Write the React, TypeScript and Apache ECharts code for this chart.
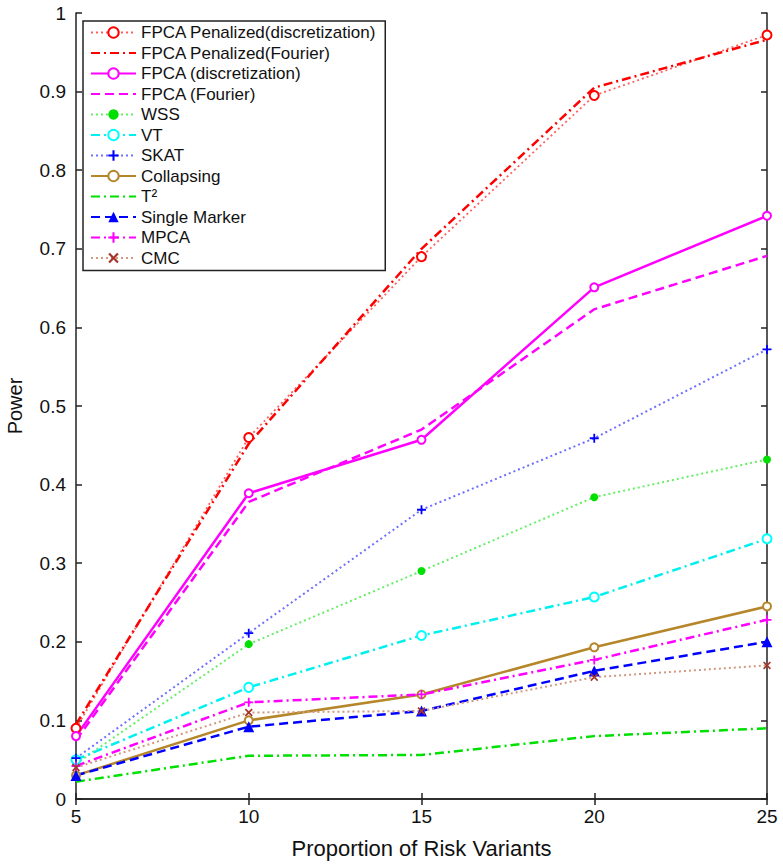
import React, { useEffect, useRef } from "react";
import * as echarts from "echarts";

const xValues = [5, 10, 15, 20, 25];
const penalizedDiscretization = [0.09, 0.46, 0.69, 0.895, 0.972];
const penalizedFourier = [0.095, 0.452, 0.7, 0.905, 0.966];
const fpcaDiscretization = [0.08, 0.389, 0.457, 0.651, 0.742];
const fpcaFourier = [0.075, 0.378, 0.47, 0.623, 0.691];
const wss = [0.045, 0.197, 0.29, 0.384, 0.432];
const vt = [0.05, 0.142, 0.208, 0.257, 0.331];
const skat = [0.052, 0.211, 0.368, 0.459, 0.572];
const collapsing = [0.03, 0.1, 0.133, 0.193, 0.245];
const t2 = [0.022, 0.055, 0.056, 0.08, 0.09];
const singleMarker = [0.03, 0.092, 0.112, 0.163, 0.2];
const mpca = [0.042, 0.123, 0.133, 0.177, 0.228];
const cmc = [0.04, 0.11, 0.112, 0.155, 0.17];

const seriesNames = [
  "FPCA Penalized(discretization)",
  "FPCA Penalized(Fourier)",
  "FPCA (discretization)",
  "FPCA (Fourier)",
  "WSS",
  "VT",
  "SKAT",
  "Collapsing",
  "T²",
  "Single Marker",
  "MPCA",
  "CMC",
];

const xTitle = "Proportion of Risk Variants";
const yTitle = "Power";

const PLUS =
  "path://M4,0 L6,0 L6,4 L10,4 L10,6 L6,6 L6,10 L4,10 L4,6 L0,6 L0,4 L4,4 Z";
const CROSS =
  "path://M0,1.5 L1.5,0 L5,3.5 L8.5,0 L10,1.5 L6.5,5 L10,8.5 L8.5,10 L5,6.5 L1.5,10 L0,8.5 L3.5,5 Z";

const DOT: any = [2, 3];
const DASH: any = [9, 5];
const DASHDOT: any = [9, 4, 2, 4];

export default function App() {
  const ref = useRef<HTMLDivElement>(null);

  useEffect(() => {
    if (!ref.current) return;
    const chart = echarts.init(ref.current, undefined, { renderer: "svg" });

    const mk = (
      name: string,
      values: number[],
      color: string,
      lineColor: string,
      type: any,
      width: number,
      symbol: string,
      symbolSize: number
    ) => ({
      name,
      type: "line",
      data: xValues.map((x, i) => [x, values[i]]),
      color,
      symbol,
      symbolSize,
      showSymbol: symbol !== "none",
      itemStyle: { color },
      lineStyle: { color: lineColor, type, width },
      emphasis: { disabled: true },
      z: 3,
    });

    const series = [
      mk(seriesNames[0], penalizedDiscretization, "#ff0000", "#ff6060", DOT, 1.8, "emptyCircle", 9),
      mk(seriesNames[1], penalizedFourier, "#ff0000", "#ff0000", DASHDOT, 2.5, "none", 0),
      mk(seriesNames[2], fpcaDiscretization, "#ff00ff", "#ff00ff", "solid", 2.5, "emptyCircle", 8),
      mk(seriesNames[3], fpcaFourier, "#ff00ff", "#ff00ff", DASH, 2.5, "none", 0),
      mk(seriesNames[4], wss, "#00e000", "#66ee66", DOT, 2, "circle", 8),
      mk(seriesNames[5], vt, "#00ffff", "#00f0f0", DASHDOT, 2.5, "emptyCircle", 9),
      mk(seriesNames[6], skat, "#0000ff", "#7070ff", DOT, 2, PLUS, 9),
      mk(seriesNames[7], collapsing, "#b5862a", "#b5862a", "solid", 2.5, "emptyCircle", 8),
      mk(seriesNames[8], t2, "#00e000", "#00e000", DASHDOT, 2.5, "none", 0),
      mk(seriesNames[9], singleMarker, "#0000ff", "#0000ff", DASH, 2.5, "triangle", 11),
      mk(seriesNames[10], mpca, "#ff00ff", "#ff00ff", DASHDOT, 2.5, PLUS, 9),
      mk(seriesNames[11], cmc, "#a5352a", "#d09a80", DOT, 2, CROSS, 8),
    ];

    const noMarker = new Set([seriesNames[1], seriesNames[3], seriesNames[8]]);
    const legendData = seriesNames.map((n) =>
      noMarker.has(n) ? { name: n, itemStyle: { opacity: 0 } } : { name: n }
    );

    const axisLine = { show: true, lineStyle: { color: "#222", width: 1.5 } };
    const tick = { show: true, inside: true, length: 6, lineStyle: { color: "#222", width: 1.5 } };
    const labelFont = { fontFamily: "Liberation Sans", fontSize: 19, color: "#111" };

    chart.setOption({
      animation: false,
      backgroundColor: "#ffffff",
      grid: {
        left: 76,
        right: 16,
        top: 13,
        bottom: 65,
        show: false,
        containLabel: false,
        outerBoundsMode: "none",
      },
      legend: {
        data: legendData,
        orient: "vertical",
        left: 83,
        top: 21,
        itemWidth: 45,
        itemHeight: 13,
        itemGap: 3.5,
        padding: [3, 9, 4, 7],
        backgroundColor: "#ffffff",
        borderColor: "#222",
        borderWidth: 1.5,
        borderRadius: 0,
        selectedMode: false,
        textStyle: { fontFamily: "Liberation Sans", fontSize: 17, color: "#111" },
        z: 10,
      },
      xAxis: [
        {
          type: "value",
          min: 5,
          max: 25,
          interval: 5,
          position: "bottom",
          name: xTitle,
          nameLocation: "middle",
          nameGap: 38,
          nameTextStyle: { fontFamily: "Liberation Sans", fontSize: 22, color: "#111" },
          axisLine,
          axisTick: tick,
          axisLabel: { ...labelFont, margin: 8 },
          splitLine: { show: false },
        },
        {
          type: "value",
          min: 5,
          max: 25,
          interval: 5,
          position: "top",
          axisLine,
          axisTick: tick,
          axisLabel: { show: false },
          splitLine: { show: false },
        },
      ],
      yAxis: [
        {
          type: "value",
          min: 0,
          max: 1,
          interval: 0.1,
          position: "left",
          name: yTitle,
          nameLocation: "middle",
          nameGap: 51,
          nameTextStyle: { fontFamily: "Liberation Sans", fontSize: 20, color: "#111" },
          axisLine,
          axisTick: tick,
          axisLabel: {
            ...labelFont,
            margin: 10,
            formatter: (v: number) => String(Math.round(v * 10) / 10),
          },
          splitLine: { show: false },
        },
        {
          type: "value",
          min: 0,
          max: 1,
          interval: 0.1,
          position: "right",
          axisLine,
          axisTick: tick,
          axisLabel: { show: false },
          splitLine: { show: false },
        },
      ],
      series,
    });

    return () => chart.dispose();
  }, []);

  return <div ref={ref} style={{ width: 783, height: 864, position: "absolute", left: 0, top: 0 }} />;
}
